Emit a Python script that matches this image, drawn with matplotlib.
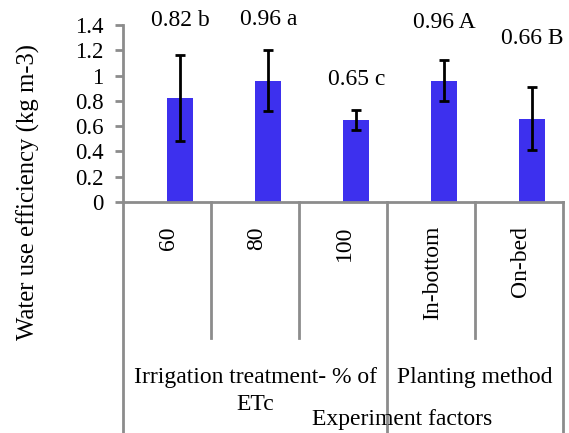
import matplotlib
matplotlib.use("Agg")
import matplotlib.pyplot as plt
import numpy as np
from matplotlib.ticker import FuncFormatter

categories = ["60", "80", "100", "In-bottom", "On-bed"]
values = [0.82, 0.96, 0.65, 0.96, 0.66]
errors = [0.34, 0.24, 0.08, 0.16, 0.25]
value_labels = ["0.82 b", "0.96 a", "0.65 c", "0.96 A", "0.66 B"]
label_heights = [1.432, 1.44, 0.969, 1.42, 1.29]
groups = ["Irrigation treatment- % of\nETc", "Planting method"]
group_sizes = [3, 2]
yticks = [0, 0.2, 0.4, 0.6, 0.8, 1.0, 1.2, 1.4]

plt.rcParams['font.family'] = ['Liberation Serif', 'DejaVu Serif']
FS = 17
W, H = 569, 433
fig = plt.figure(figsize=(W / 100, H / 100), dpi=100)
ax = fig.add_axes([123 / W, 1 - 202 / H, (563 - 123) / W, (202 - 25) / H])

grey = "#8c8c8c"
x = np.arange(len(categories))
offset = 0.65
ax.bar(x + offset, values, width=0.29, color="#3d30ee", zorder=2)
ax.errorbar(x + offset, values, yerr=errors, fmt="none", ecolor="black",
            elinewidth=2.0, capsize=3.5, capthick=2.0, zorder=3)

for xi, lab, h in zip(x, value_labels, label_heights):
    ax.text(xi + offset, h, lab, ha="center", va="center", fontsize=FS, clip_on=False)

ax.set_xlim(0, len(categories))
ax.set_ylim(0, 1.4)
ax.set_yticks(yticks)
ax.yaxis.set_major_formatter(FuncFormatter(lambda v, p: f"{v:g}"))
ax.tick_params(axis="y", length=6, width=2, color=grey, labelsize=16.5, pad=8)
ax.tick_params(axis="x", length=0, labelbottom=False)
for s in ["top", "right"]:
    ax.spines[s].set_visible(False)
for s in ["left", "bottom"]:
    ax.spines[s].set_color(grey)
    ax.spines[s].set_linewidth(2)

ax_h = 202 - 25
def fy(py):
    return -(py - 202) / ax_h

inner_bottom = fy(338)
outer_bottom = fy(433)
trans = ax.get_xaxis_transform()

# category labels
for xi, c in zip(x, categories):
    ax.text(xi + 0.52, fy(226), c, rotation=90, ha="center", va="top",
            fontsize=FS, transform=trans, clip_on=False)

# divider lines
bounds = np.cumsum([0] + group_sizes)
for i in range(len(categories) + 1):
    bottom = outer_bottom if i in bounds else inner_bottom
    ax.plot([i, i], [0, bottom], color=grey, lw=2, transform=trans, clip_on=False)

# group labels
for gi, g in enumerate(groups):
    center = (bounds[gi] + bounds[gi + 1]) / 2
    for li, line in enumerate(g.split("\n")):
        ax.text(center, fy(377 + 27 * li), line, ha="center", va="center", fontsize=FS,
                transform=trans, clip_on=False)

fig.text(402 / W, 1 - 420 / H, "Experiment factors", ha="center", va="center", fontsize=FS)
fig.text(28 / W, 1 - 192 / H, "Water use efficiency (kg m-3)", rotation=90,
         ha="center", va="center", fontsize=17.8)

fig.savefig("out.png", dpi=100)
